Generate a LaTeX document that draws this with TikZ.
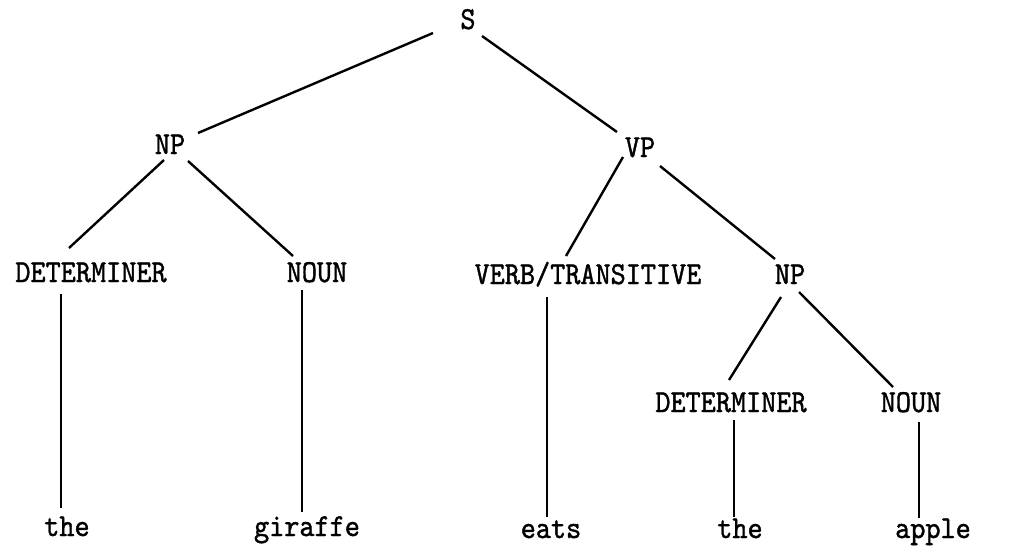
\documentclass[tikz,border=0pt]{standalone}
\usepackage{fontspec}
\newfontfamily\typewriter{lmmono10-regular.otf}[FakeStretch=0.9,FakeBold=1.2]
\usetikzlibrary{calc}
\begin{document}
\begin{tikzpicture}[x=1pt,y=-1pt,
  lbl/.style={anchor=base,inner sep=0pt,font=\typewriter\fontsize{32}{32}\selectfont},
  branch/.style={line width=2.4pt},
  leafline/.style={line width=1.6pt}]
\useasboundingbox (0,0) rectangle (1011,546);
% category labels
\node[lbl] (s)     at (468,29)  {S};
\node[lbl] (np1)   at (170,154) {NP};
\node[lbl] (vp)    at (640,157) {VP};
\node[lbl] (det1)  at (91,282)  {DETERMINER};
\node[lbl] (noun1) at (317,282) {NOUN};
\node[lbl] (verb)  at (588,284) {VERB/TRANSITIVE};
\node[lbl] (np2)   at (790,284) {NP};
\node[lbl] (det2)  at (731,412) {DETERMINER};
\node[lbl] (noun2) at (911,412) {NOUN};
% words
\node[lbl] (the1)    at (67,536)  {the};
\node[lbl] (giraffe) at (307,536) {giraffe};
\node[lbl] (eats)    at (551,538) {eats};
\node[lbl] (the2)    at (740,538) {the};
\node[lbl] (apple)   at (933,538) {apple};
% branches
\draw[branch] ([shift={(-35,4)}]s.base)    -- ([shift={(28,-21)}]np1.base);
\draw[branch] ([shift={(14,7)}]s.base)     -- ([shift={(-23,-25)}]vp.base);
\draw[branch] ([shift={(-6,6)}]np1.base)   -- ([shift={(-22,-34)}]det1.base);
\draw[branch] ([shift={(18,7)}]np1.base)   -- ([shift={(-24,-26)}]noun1.base);
\draw[branch] ([shift={(-17,0)}]vp.base)   -- ([shift={(-22,-28)}]verb.base);
\draw[branch] ([shift={(20,9)}]vp.base)    -- ([shift={(-15,-25)}]np2.base);
\draw[branch] ([shift={(-9,13)}]np2.base)  -- ([shift={(-2,-32)}]det2.base);
\draw[branch] ([shift={(9,8)}]np2.base)    -- ([shift={(-18,-25)}]noun2.base);
% lexical attachments
\draw[leafline] ([shift={(-30,12)}]det1.base)  -- ([shift={(-6,-28)}]the1.base);
\draw[leafline] ([shift={(-15,8)}]noun1.base)  -- ([shift={(-5,-24)}]giraffe.base);
\draw[leafline] ([shift={(-41,13)}]verb.base)  -- ([shift={(-4,-21)}]eats.base);
\draw[leafline] ([shift={(3,8)}]det2.base)     -- ([shift={(-6,-21)}]the2.base);
\draw[leafline] ([shift={(8,10)}]noun2.base)   -- ([shift={(-14,-20)}]apple.base);
\end{tikzpicture}
\end{document}
